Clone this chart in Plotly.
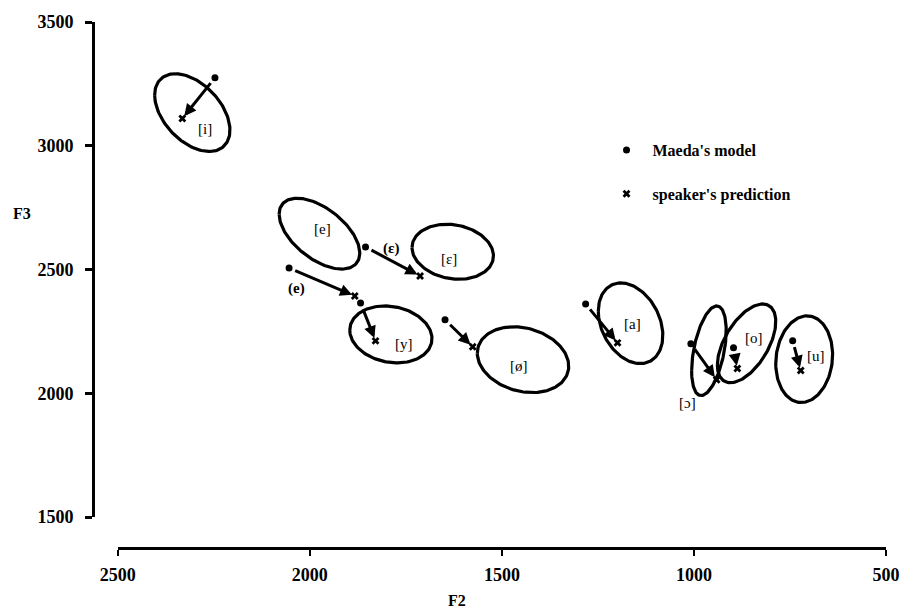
import numpy as np
import plotly.graph_objects as go

# ---- data (F2, F3 in Hz) ----
# vowel regions (outline ellipses): centre, half-ranges, tilt
ell_vowel = ['i', 'e', 'ε', 'y', 'ø', 'a', 'ɔ', 'o', 'u']
ell_f2 = [2306, 1975, 1628, 1789, 1445, 1165, 961, 863, 713]
ell_f3 = [3134, 2645, 2572, 2238, 2136, 2283, 2172, 2202, 2138]
ell_a = [98, 105, 106, 107, 119, 84, 45, 76, 74]
ell_b = [157, 143, 111, 115, 133, 163, 181, 159, 175]
ell_rho = [0.45, 0.55, 0.15, 0.15, 0.2, 0.3, -0.45, -0.55, -0.1]

# Maeda's model points and speaker's predictions
model_f2 = [2247, 1855, 2054, 1868, 1648, 1282, 1008, 897, 743]
model_f3 = [3275, 2591, 2506, 2365, 2297, 2361, 2200, 2184, 2212]
pred_f2 = [2332, 1713, 1883, 1829, 1576, 1199, 941, 887, 722]
pred_f3 = [3110, 2474, 2393, 2212, 2188, 2204, 2055, 2100, 2092]

# text labels
label_text = ['[i]', '[e]', '(ε)', '[ε]', '(e)', '[y]', '[ø]', '[a]', '[ɔ]', '[o]', '[u]']
label_f2 = [2273, 1966, 1790, 1638, 2035, 1754, 1455, 1161, 1016, 843, 683]
label_f3 = [3069, 2663, 2587, 2542, 2422, 2200, 2112, 2281, 1959, 2224, 2152]
label_bold = [False, False, True, False, True, False, False, False, False, False, False]

x_ticks = [2500, 2000, 1500, 1000, 500]
y_ticks = [1500, 2000, 2500, 3000, 3500]

SERIF = "Liberation Serif"

fig = go.Figure()

t = np.linspace(0, 2 * np.pi, 160)
for cx, cy, a, b, r in zip(ell_f2, ell_f3, ell_a, ell_b, ell_rho):
    xs = cx + a * np.cos(t)
    ys = cy + b * (r * np.cos(t) + np.sqrt(1 - r * r) * np.sin(t))
    fig.add_trace(go.Scatter(x=xs, y=ys, mode='lines',
                             line=dict(color='black', width=3.2),
                             showlegend=False, hoverinfo='skip'))

fig.add_trace(go.Scatter(x=model_f2, y=model_f3, mode='markers',
                         marker=dict(color='black', size=7, symbol='circle'),
                         name="Maeda's model", legendgroup='a'))
fig.add_trace(go.Scatter(x=pred_f2, y=pred_f3, mode='markers',
                         marker=dict(color='black', size=7, symbol='x'),
                         name="speaker's prediction", legendgroup='b'))

for mx, my, px, py in zip(model_f2, model_f3, pred_f2, pred_f3):
    fig.add_annotation(x=px, y=py, ax=mx, ay=my,
                       xref='x', yref='y', axref='x', ayref='y',
                       showarrow=True, arrowhead=2, arrowsize=0.8,
                       arrowwidth=3, arrowcolor='black',
                       standoff=3, startstandoff=5, text='')

for txt, lx, ly, bold in zip(label_text, label_f2, label_f3, label_bold):
    fig.add_annotation(x=lx, y=ly, xref='x', yref='y', text=txt,
                       showarrow=False,
                       font=dict(family=SERIF, size=15, color='black',
                                 weight='bold' if bold else 'normal'))

fig.add_annotation(x=-0.089, y=0.635, xref='paper', yref='paper', text='F3',
                   showarrow=False, xanchor='center', yanchor='middle',
                   font=dict(family=SERIF, size=16, color='black', weight='bold'))
fig.add_annotation(x=0.459, y=-0.1, xref='paper', yref='paper', text='F2',
                   showarrow=False, xanchor='center', yanchor='middle',
                   font=dict(family=SERIF, size=16, color='black', weight='bold'))

fig.update_layout(
    width=912, height=615,
    margin=dict(l=93, r=19, t=20, b=67),
    paper_bgcolor='white', plot_bgcolor='white',
    showlegend=True,
    legend=dict(x=0.64, y=0.789, xanchor='left', yanchor='top',
                bgcolor='rgba(0,0,0,0)', tracegroupgap=20,
                traceorder='grouped', itemwidth=42,
                font=dict(family=SERIF, size=16, color='black', weight='bold')),
    xaxis=dict(range=[2500, 500], domain=[25 / 800, 1], anchor='free', position=0,
               showgrid=False, zeroline=False, showline=True, linecolor='black',
               linewidth=3, ticks='outside', ticklen=6, tickwidth=2, tickcolor='black',
               tickvals=x_ticks, ticktext=[str(v) for v in x_ticks],
               ticklabelstandoff=3,
               tickfont=dict(family=SERIF, size=18, color='black', weight='bold')),
    yaxis=dict(range=[1500, 3500], domain=[31 / 528, 1], anchor='free', position=0,
               showgrid=False, zeroline=False, showline=True, linecolor='black',
               linewidth=3, ticks='outside', ticklen=7, tickwidth=3, tickcolor='black',
               tickvals=y_ticks, ticktext=[str(v) for v in y_ticks],
               ticklabelstandoff=8,
               tickfont=dict(family=SERIF, size=18, color='black', weight='bold')),
)

fig.write_html("out.html")
